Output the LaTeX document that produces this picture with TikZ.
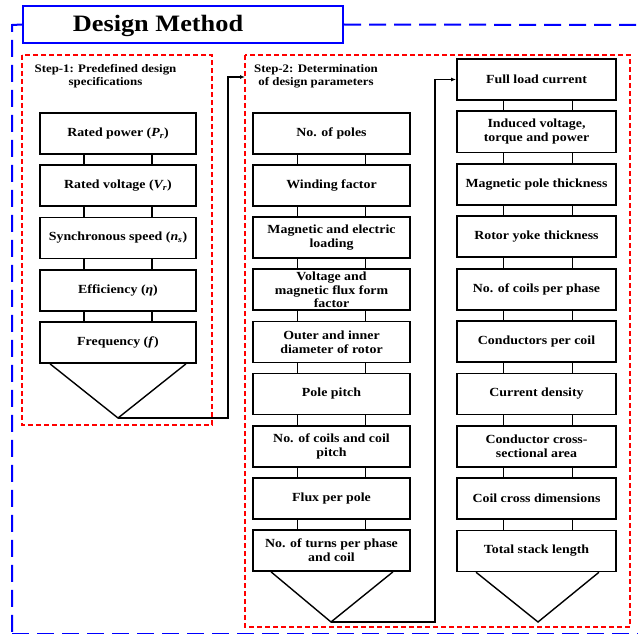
\documentclass[tikz,border=0pt]{standalone}
\usepackage{fontspec}
\setmainfont{Liberation Serif}[FakeStretch=1.12]
\usetikzlibrary{arrows.meta}
\begin{document}
\begin{tikzpicture}[x=1pt,y=-1pt,
  box/.style={draw, line width=1.8pt, minimum height=41pt, inner sep=1pt, align=center,
    font=\fontsize{12.4}{14}\selectfont\bfseries},
  boxA/.style={box, minimum width=156pt},
  boxB/.style={box, minimum width=157pt},
  boxC/.style={box, minimum width=159pt},
  conn/.style={line width=1.4pt},
  arr/.style={conn, -{Latex[length=5pt,width=4pt]}},
  frame/.style={draw=red, line width=1.4pt, dash pattern=on 5pt off 3pt},
  outer/.style={draw=blue, line width=2pt, dash pattern=on 17pt off 8pt},
  steplab/.style={align=center, font=\fontsize{11.5}{13}\selectfont\bfseries},
]
\useasboundingbox (0,0) rectangle (638,634);

% outer blue dashed frame and title
\node[draw=blue, line width=2pt, fill=white, minimum width=320pt, minimum height=37pt, inner sep=0pt] (title) at (183,24.5) {};
\node[font=\fontsize{23.5}{26}\selectfont\bfseries] (titletext) at (158,25.5) {Design Method};
\coordinate (oc1) at (12,25);
\coordinate (oc2) at (12,634);
\coordinate (oc3) at (638,25);
\coordinate (ob1) at (12,634);
\coordinate (ob2) at (638,634);
\draw[outer] (title.west) -- (oc1) -- (oc2);
\draw[outer] (title.east) -- (oc3);
\draw[outer] (ob1) -- (ob2);

% red dashed frames
\draw[frame] (22,55) rectangle (212,425);
\draw[frame] (245,55) rectangle (630,627);
\node[steplab] (lab1) at (105.5,76.5) {Step-1: Predefined design\\specifications};
\node[steplab] (lab2) at (316,76.5) {Step-2: Determination\\of design parameters};

% column A
\node[boxA] (a1) at (118,133.5) {Rated power (\textit{P\textsubscript{r}})};
\node[boxA] (a2) at (118,185.75) {Rated voltage (\textit{V\textsubscript{r}})};
\node[boxA] (a3) at (118,238) {Synchronous speed (\textit{n\textsubscript{s}})};
\node[boxA] (a4) at (118,290.25) {Efficiency (\textit{η})};
\node[boxA] (a5) at (118,342.5) {Frequency (\textit{f})};
\foreach \i/\j in {1/2,2/3,3/4,4/5}{
  \draw[conn] ([xshift=-34pt]a\i.south) -- ([xshift=-34pt]a\j.north);
  \draw[conn] ([xshift=34pt]a\i.south) -- ([xshift=34pt]a\j.north);
}
\coordinate (t1) at (118,418);
\draw[conn] ([xshift=11pt]a5.south west) -- (t1) -- ([xshift=-11pt]a5.south east);

% column B
\node[boxB] (b1) at (331.5,133.5) {No. of poles};
\node[boxB] (b2) at (331.5,185.6) {Winding factor};
\node[boxB] (b3) at (331.5,237.7) {Magnetic and electric\\loading};
\node[boxB, font=\fontsize{12.4}{13.5}\selectfont\bfseries, inner sep=0pt] (b4) at (331.5,289.8) {Voltage and\\magnetic flux form\\factor};
\node[boxB] (b5) at (331.5,341.9) {Outer and inner\\diameter of rotor};
\node[boxB] (b6) at (331.5,394) {Pole pitch};
\node[boxB] (b7) at (331.5,446.1) {No. of coils and coil\\pitch};
\node[boxB] (b8) at (331.5,498.2) {Flux per pole};
\node[boxB] (b9) at (331.5,550.5) {No. of turns per phase\\and coil};
\foreach \i/\j in {1/2,2/3,3/4,4/5,5/6,6/7,7/8,8/9}{
  \draw[conn] ([xshift=-34pt]b\i.south) -- ([xshift=-34pt]b\j.north);
  \draw[conn] ([xshift=34pt]b\i.south) -- ([xshift=34pt]b\j.north);
}
\coordinate (t2) at (331,622);
\draw[conn] ([xshift=19pt]b9.south west) -- (t2) -- ([xshift=-18pt]b9.south east);

% column C
\node[boxC] (c1) at (536.5,79.5) {Full load current};
\node[boxC] (c2) at (536.5,131.9) {Induced voltage,\\torque and power};
\node[boxC] (c3) at (536.5,184.3) {Magnetic pole thickness};
\node[boxC] (c4) at (536.5,236.7) {Rotor yoke thickness};
\node[boxC] (c5) at (536.5,289.1) {No. of coils per phase};
\node[boxC] (c6) at (536.5,341.5) {Conductors per coil};
\node[boxC] (c7) at (536.5,393.9) {Current density};
\node[boxC] (c8) at (536.5,446.3) {Conductor cross-\\sectional area};
\node[boxC] (c9) at (536.5,498.7) {Coil cross dimensions};
\node[boxC] (c10) at (536.5,550.9) {Total stack length};
\foreach \i/\j in {1/2,2/3,3/4,4/5,5/6,6/7,7/8,8/9,9/10}{
  \draw[conn] ([xshift=-33pt]c\i.south) -- ([xshift=-33pt]c\j.north);
  \draw[conn] ([xshift=36pt]c\i.south) -- ([xshift=36pt]c\j.north);
}
\coordinate (t3) at (538,622);
\draw[conn] ([xshift=20pt]c10.south west) -- (t3) -- ([xshift=-18pt]c10.south east);

% flow arrows
\coordinate (in2) at (245,77);
\draw[arr] (t1) -- (228,418) -- (228,77) -- (in2);
\draw[arr] (t2) -- (435,622) |- (c1.west);
\end{tikzpicture}
\end{document}
